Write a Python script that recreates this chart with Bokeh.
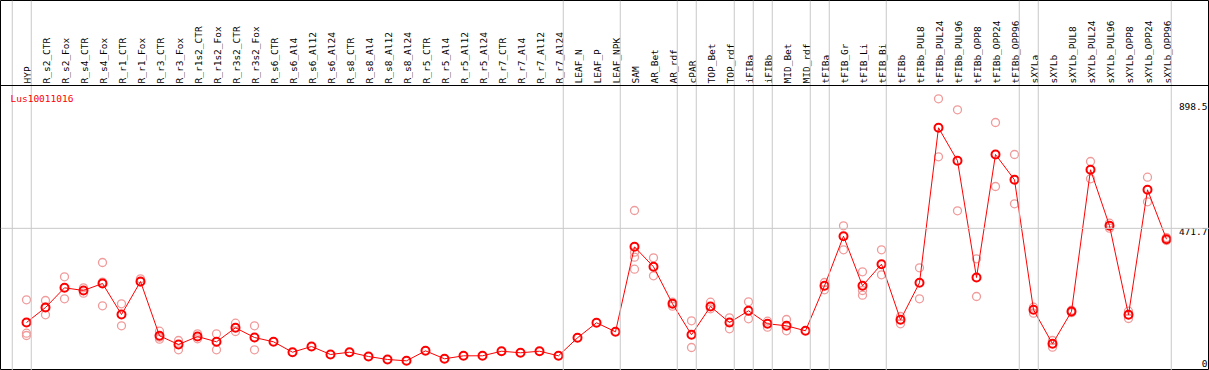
import math
from bokeh.plotting import figure
from bokeh.models import Range1d, Span, Label
from bokeh.core.properties import value
from bokeh.embed import file_html
from bokeh.resources import INLINE

# ---------------- data ----------------
categories = [
    "HYP", "R_s2_CTR", "R_s2_Fox", "R_s4_CTR", "R_s4_Fox", "R_r1_CTR", "R_r1_Fox",
    "R_r3_CTR", "R_r3_Fox", "R_r1s2_CTR", "R_r1s2_Fox", "R_r3s2_CTR", "R_r3s2_Fox",
    "R_s6_CTR", "R_s6_Al4", "R_s6_Al12", "R_s6_Al24", "R_s8_CTR", "R_s8_Al4",
    "R_s8_Al12", "R_s8_Al24", "R_r5_CTR", "R_r5_Al4", "R_r5_Al12", "R_r5_Al24",
    "R_r7_CTR", "R_r7_Al4", "R_r7_Al12", "R_r7_Al24", "LEAF_N", "LEAF_P", "LEAF_NPK",
    "SAM", "AR_Bet", "AR_rdf", "cPAR", "TOP_Bet", "TOP_rdf", "iFIBa", "iFIBb",
    "MID_Bet", "MID_rdf", "tFIBa", "tFIB_Gr", "tFIB_Li", "tFIB_Bi", "tFIBb",
    "tFIBb_PUL8", "tFIBb_PUL24", "tFIBb_PUL96", "tFIBb_OPP8", "tFIBb_OPP24",
    "tFIBb_OPP96", "sXYLa", "sXYLb", "sXYLb_PUL8", "sXYLb_PUL24", "sXYLb_PUL96",
    "sXYLb_OPP8", "sXYLb_OPP24", "sXYLb_OPP96",
]

means = [
    150.2, 201.4, 268.7, 259.5, 283.4, 177.5, 290.2, 104.8, 75.1, 102.4, 84.3,
    132.1, 99.0, 84.3, 48.8, 68.3, 41.0, 48.8, 34.1, 23.9, 19.4, 53.5, 26.3,
    36.5, 36.5, 52.2, 46.8, 52.2, 36.5, 98.0, 149.2, 118.5, 408.6, 340.4, 214.0,
    108.2, 204.8, 150.2, 190.2, 145.8, 139.0, 121.9, 275.5, 444.9, 275.5, 349.3,
    159.4, 285.8, 815.0, 702.2, 303.9, 723.8, 637.3, 193.6, 77.5, 187.8, 671.6,
    480.4, 176.5, 603.3, 434.6,
]

replicates = [
    [227.7, 113.7, 105.8], [225.3, 176.5, 202.5], [306.2, 231.1], [268.7, 250.3],
    [355.1, 207.2, 288.0], [214.1, 139.0], [299.4, 287.8], [120.5, 93.2, 100.0],
    [88.8, 57.0], [111.6, 94.6], [111.6, 57.0], [147.8, 119.5], [139.0, 57.0],
    [], [], [], [], [], [], [], [], [], [], [], [], [], [], [], [], [], [], [],
    [532.6, 390.2, 373.2, 332.2], [371.1, 309.7], [219.5, 205.9], [156.0, 64.9],
    [219.5, 197.0], [166.3, 128.7], [220.9, 162.9], [154.7, 134.2], [160.5, 121.9],
    [], [286.8, 261.9], [480.4, 398.4], [323.3, 243.4, 259.5], [398.4, 313.1],
    [170.7, 145.8], [337.0, 231.1], [914.0, 716.0], [876.4, 531.6], [367.7, 239.0],
    [833.0, 614.5], [723.8, 555.5], [202.5, 182.0], [88.8, 65.9], [192.0, 184.0],
    [699.9, 640.8], [489.3, 472.2], [188.8, 163.9], [646.3, 562.3], [440.0, 430.0],
]

# last category of each group (a separator line follows it); the first line sits before HYP
group_last = ["HYP", "R_r7_Al24", "LEAF_NPK", "AR_rdf", "cPAR", "TOP_rdf", "iFIBa",
              "iFIBb", "MID_rdf", "tFIBa", "tFIB_Bi", "tFIBb_OPP96", "sXYLa",
              "sXYLb_OPP96"]

tick_values = [0, 471.7, 898.5]
tick_labels = ["0", "471.7", "898.5"]
gene_name = "Lus10011016"

# ---------------- layout ----------------
W, H = 1209, 370
HEAD_H = 85
PLOT_H = H - HEAD_H
STEP = 19          # px per category
X0 = 26            # px position of first category
SEP_OFF = 0.25     # separator offset in category units
PX_PER_UNIT = 0.2929
ZERO_PX = 281      # px from plot top where value 0 sits

x_start = -X0 / STEP
x_end = (W - X0) / STEP
y_start = -(PLOT_H - ZERO_PX) / PX_PER_UNIT
y_top = ZERO_PX / PX_PER_UNIT
upp = 1.0 / PX_PER_UNIT
y_end = y_top + HEAD_H * upp

FONT = "DejaVu Sans Mono"
FSIZE = "9.5px"
GRID = "#c8c8c8"
RED = "#ff0000"
PINK = "#f09a9a"

p = figure(width=W, height=H, x_range=Range1d(x_start, x_end),
           y_range=Range1d(y_start, y_end), output_backend="svg",
           toolbar_location=None, x_axis_location=None, y_axis_location=None,
           min_border=0, min_border_left=0, min_border_right=0,
           min_border_top=0, min_border_bottom=0)
p.grid.visible = False
p.outline_line_color = "black"
p.outline_line_width = 1
p.background_fill_color = "white"
p.border_fill_color = "white"

# vertical separators
idx = {c: i for i, c in enumerate(categories)}
sep_positions = [-1 + SEP_OFF] + [idx[c] + SEP_OFF for c in group_last]
for s in sep_positions:
    p.add_layout(Span(location=s, dimension="height", line_color=GRID, line_width=1))

# horizontal grid at middle tick
p.add_layout(Span(location=tick_values[1], dimension="width", line_color=GRID, line_width=1))
# header separator
p.add_layout(Span(location=y_top, dimension="width", line_color="black", line_width=1))

# header labels
xs = list(range(len(categories)))
p.text(x=[i + 1.0 / STEP for i in xs], y=[y_top + 2 * upp] * len(xs), text=categories,
       angle=math.pi / 2, text_align="left", text_baseline="alphabetic",
       text_font=value(FONT), text_font_size=FSIZE, text_color="black")

# replicates
rx, ry = [], []
for i, reps in enumerate(replicates):
    for v in reps:
        rx.append(i)
        ry.append(v)
p.scatter(rx, ry, marker="circle", size=8, fill_color=None, line_color=PINK, line_width=1.3)

# mean line and markers
p.line(xs, means, line_color=RED, line_width=1)
p.scatter(xs, means, marker="circle", size=8, fill_color=None, line_color=RED, line_width=2)

# right-side value labels
p.text(x=[x_end], y=[tick_values[0]], text=[tick_labels[0]], text_align="right",
       text_baseline="bottom", x_offset=-2, text_font=value(FONT),
       text_font_size=FSIZE, text_color="black")
p.text(x=[x_end, x_end], y=tick_values[1:], text=tick_labels[1:], text_align="right",
       text_baseline="top", x_offset=-2, text_font=value(FONT),
       text_font_size=FSIZE, text_color="black")

# gene name
p.add_layout(Label(x=10, y=PLOT_H - 7, x_units="screen", y_units="screen",
                   text=gene_name, text_color=RED, text_baseline="top",
                   text_font=FONT, text_font_size=FSIZE))

open("out.html", "w").write(file_html(p, INLINE))
